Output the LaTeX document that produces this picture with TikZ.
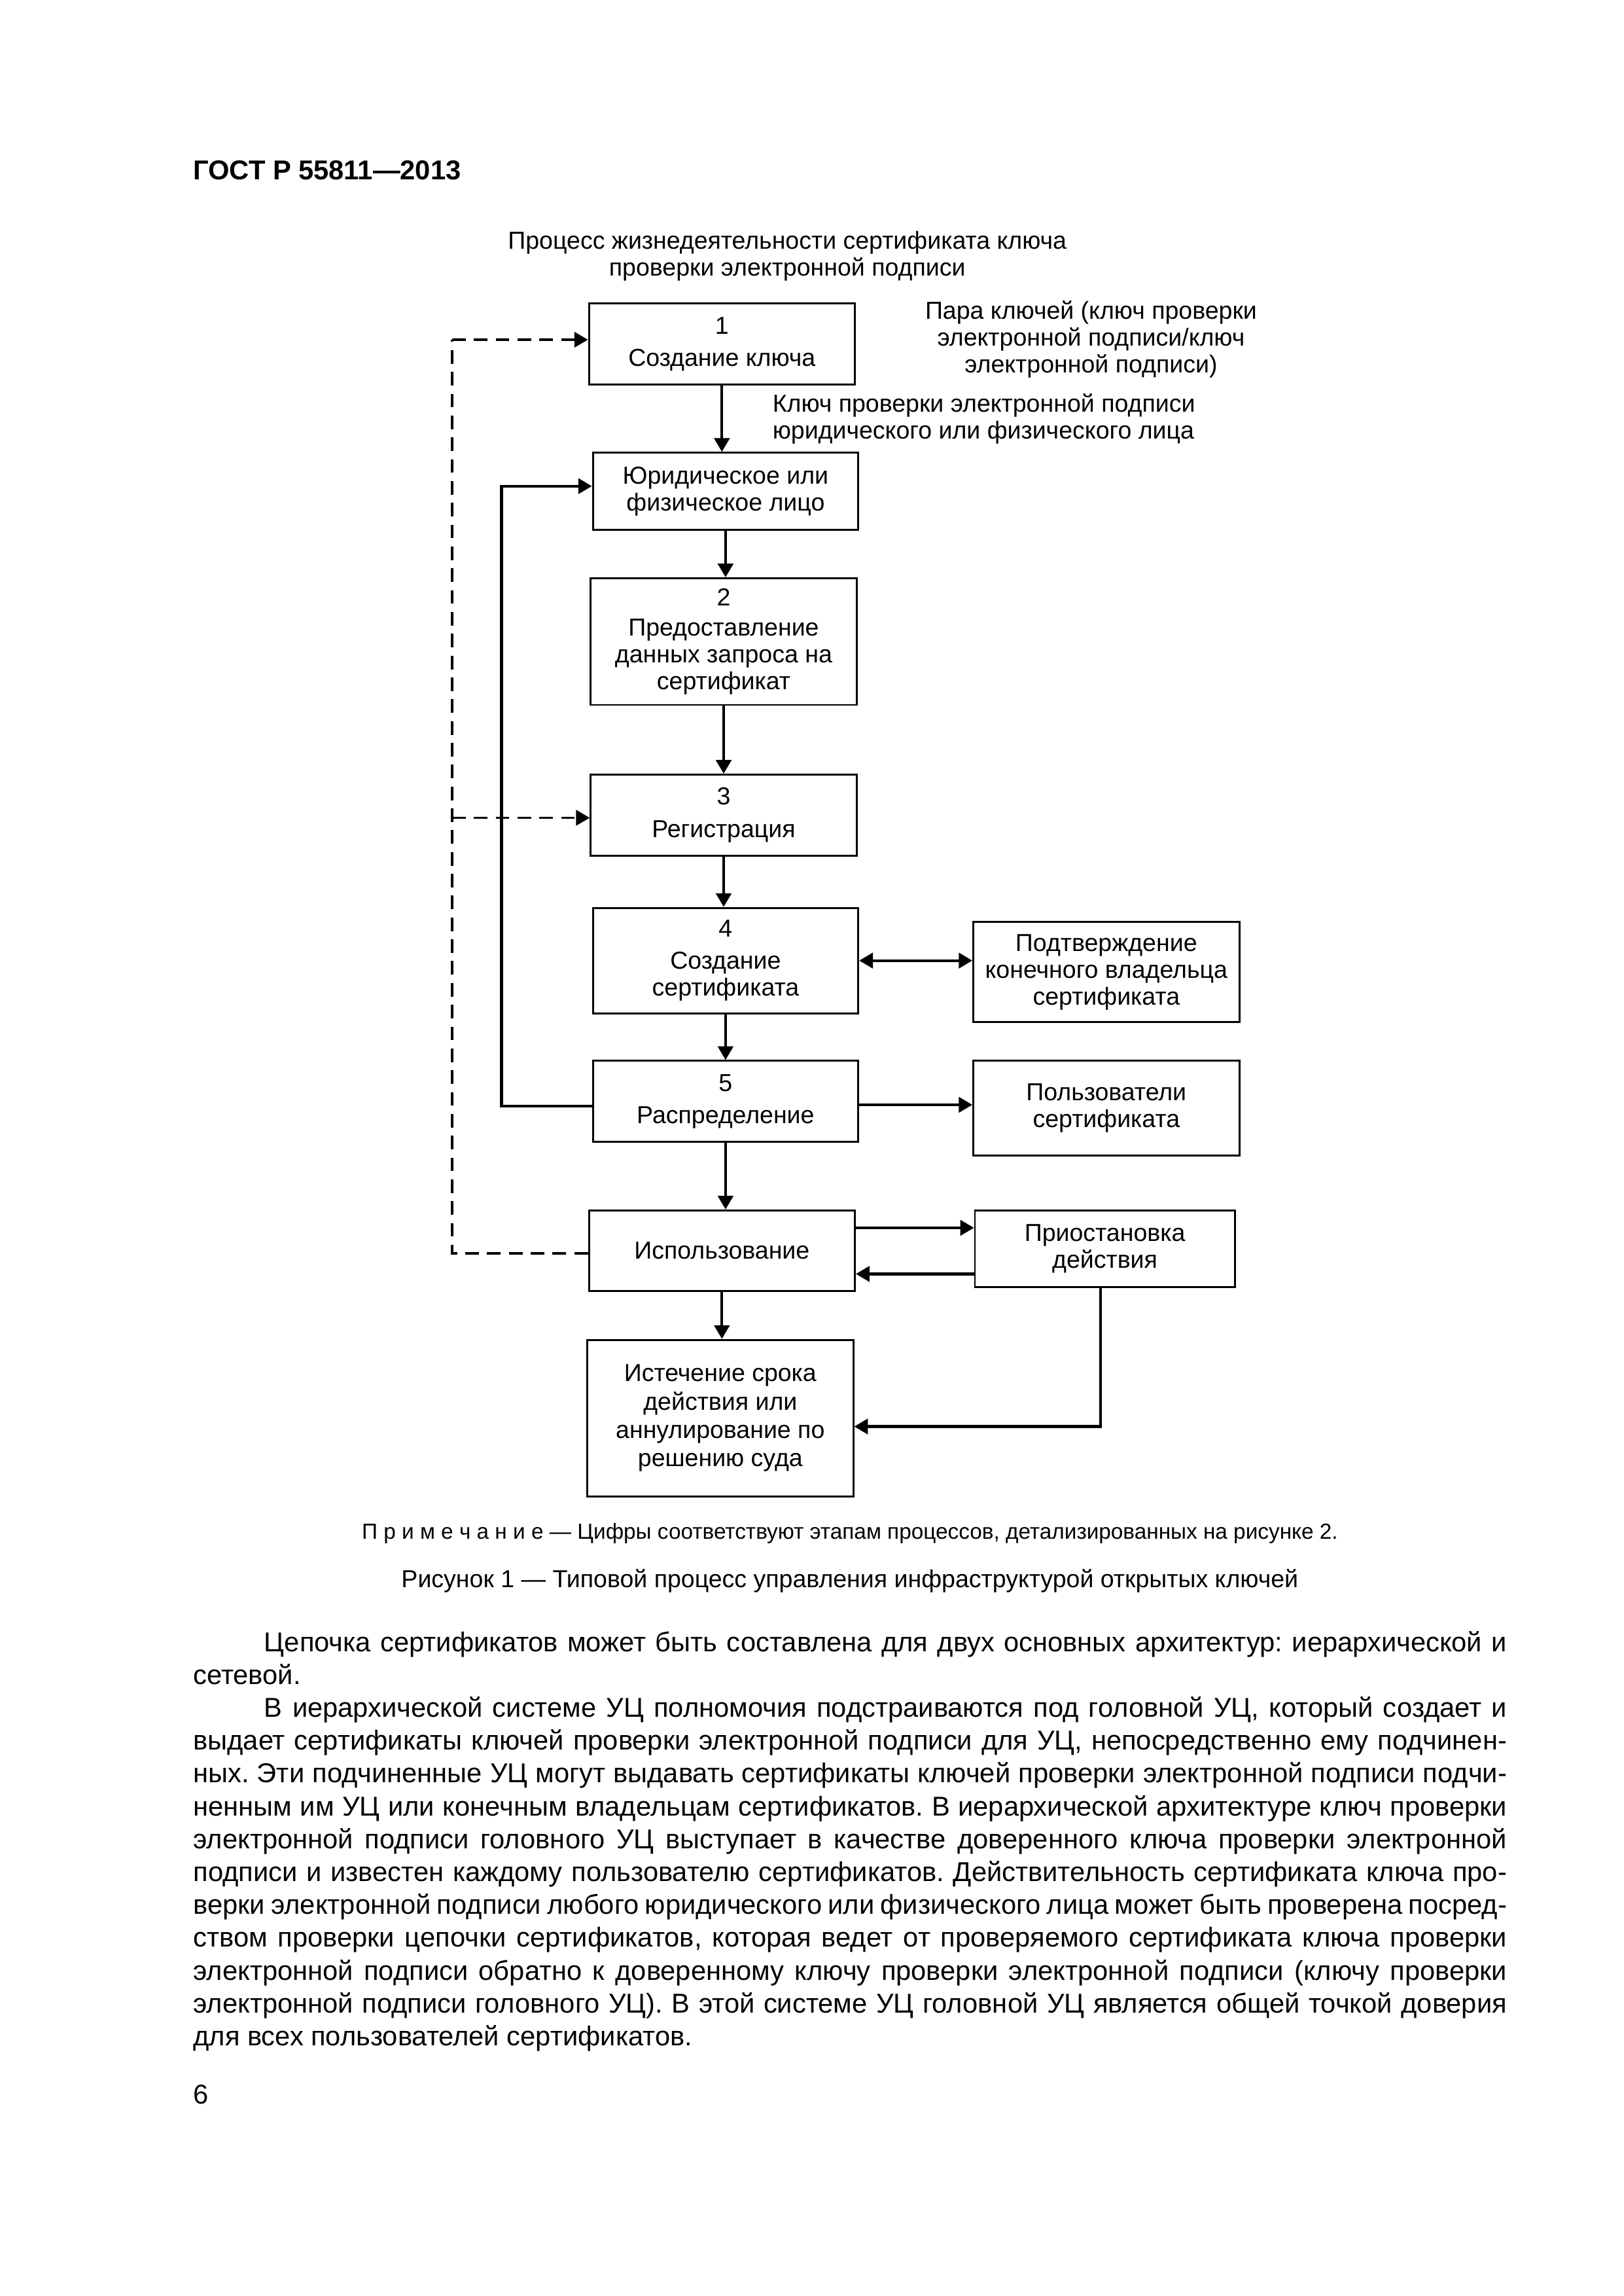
\documentclass[tikz,border=0pt]{standalone}
\usepackage{fontspec}
\setmainfont{Liberation Sans}
\usetikzlibrary{arrows.meta,calc}
\frenchspacing
\begin{document}
\begin{tikzpicture}[x=0.5368pt,y=-0.5368pt,
  box/.style={draw,line width=0.7pt,inner sep=0pt,align=center,font=\fontsize{9}{9.8}\selectfont},
  lbl/.style={inner sep=0pt,align=center,font=\fontsize{9}{9.8}\selectfont},
  tip/.style={-{Triangle[length=5pt,width=5.6pt]}},
  conn/.style={line width=1pt,tip},
  dconn/.style={line width=0.9pt,dash pattern=on 5pt off 3pt},
  bodyl/.style={anchor=base west,inner sep=0pt,font=\fontsize{10}{12}\selectfont},
]
\path[use as bounding box,fill=white] (0,0) rectangle (1109,1568);

% header
\node[anchor=base west,inner sep=0pt,font=\bfseries\fontsize{10}{12}\selectfont] (hdr) at (131.7,122.7) {ГОСТ Р 55811—2013};

% titles and labels
\node[lbl] (title) at (537.8,174.9) {Процесс жизнедеятельности сертификата ключа\\проверки электронной подписи};
\node[lbl] (pair) at (745.3,231.7) {Пара ключей (ключ проверки\\электронной подписи/ключ\\электронной подписи)};
\node[lbl,anchor=west,align=left] (keylbl) at (527.4,286) {Ключ проверки электронной подписи\\юридического или физического лица};

% boxes
\node[box,minimum width=97.54pt,minimum height=29.74pt] (b1) at (493.15,235) {1\\[1.8pt]Создание ключа};
\node[box,minimum width=97.32pt,minimum height=28.34pt] (bU) at (495.65,335.6) {Юридическое или\\физическое лицо};
\node[box,minimum width=97.54pt,minimum height=46.43pt] (b2) at (494.35,438.15) {2\\[1.4pt]Предоставление\\данных запроса на\\сертификат};
\node[box,minimum width=97.54pt,minimum height=29.79pt] (b3) at (494.35,556.75) {3\\[2.2pt]Регистрация};
\node[box,minimum width=97.32pt,minimum height=38.65pt] (b4) at (495.65,656) {4\\[2pt]Создание\\сертификата};
\node[box,minimum width=97.54pt,minimum height=36.66pt] (bP) at (755.75,663.85) {Подтверждение\\конечного владельца\\сертификата};
\node[box,minimum width=97.32pt,minimum height=29.63pt] (b5) at (495.65,752.1) {5\\[2pt]Распределение};
\node[box,minimum width=97.54pt,minimum height=34.62pt] (bPol) at (755.75,756.75) {Пользователи\\сертификата};
\node[box,minimum width=97.54pt,minimum height=29.63pt] (bI) at (493.15,854.2) {Использование};
\node[box,minimum width=95.28pt,minimum height=28.13pt] (bS) at (754.75,852.8) {Приостановка\\действия};
\node[box,minimum width=97.54pt,minimum height=57.44pt,font=\fontsize{9}{10.4}\selectfont] (bE) at (492.05,968.5) {Истечение срока\\действия или\\аннулирование по\\решению суда};

% vertical flow
\draw[conn] (b1.south) -- (b1.south |- bU.north);
\draw[conn] (bU.south) -- (bU.south |- b2.north);
\draw[conn] (b2.south) -- (b2.south |- b3.north);
\draw[conn] (b3.south) -- (b3.south |- b4.north);
\draw[conn] (b4.south) -- (b4.south |- b5.north);
\draw[conn] (b5.south) -- (b5.south |- bI.north);
\draw[conn] (bI.south) -- (bI.south |- bE.north);

% helper coordinates for horizontal connectors
\coordinate (c5) at ($(b5.east)+(0,2.4)$);
\coordinate (cIS) at ($(bI.east)+(0,-15.7)$);
\coordinate (cSI) at ($(bS.west)+(0,17.2)$);
\coordinate (cSd) at ($(bS.south)+(-2.8,0)$);
\coordinate (cE) at ($(bE.east)+(0,5.7)$);

% horizontal connectors
\draw[line width=1pt,{Triangle[length=5pt,width=5.6pt]}-{Triangle[length=5pt,width=5.6pt]}] (b4.east) -- (b4.east -| bP.west);
\draw[conn] (c5) -- (c5 -| bPol.west);
\draw[conn] (cIS) -- (cIS -| bS.west);
\draw[conn] (cSI) -- (cSI -| bI.east);
\draw[conn] (cSd) |- (cE);

% solid feedback
\coordinate (fbB) at (342.6,755.5);
\coordinate (fbT) at (342.6,332);
\draw[conn] (b5.west |- fbB) -- (fbB) -- (fbT) -- (fbT -| bU.west);

% dashed feedback
\coordinate (dB) at (308.8,856);
\coordinate (dT) at (308.8,232);
\coordinate (dM) at (308.8,558.5);
\draw[dconn] (bI.west |- dB) -- (dB) -- (dT);
\draw[dconn,tip] (dT) -- (dT -| b1.west);
\draw[dconn,tip] (dM) -- (dM -| b3.west);

% note and caption
\node[anchor=base,inner sep=0pt,font=\fontsize{8}{9.6}\selectfont] (note) at (580.6,1051) {П р и м е ч а н и е — Цифры соответствуют этапам процессов, детализированных на рисунке 2.};
\node[anchor=base,inner sep=0pt,font=\fontsize{9}{10.8}\selectfont] (cap) at (580.5,1084) {Рисунок 1 — Типовой процесс управления инфраструктурой открытых ключей};

% body text
\node[bodyl] (l1) at (180.2,1127.8) {\makebox[455.65pt][s]{Цепочка сертификатов может быть составлена для двух основных архитектур: иерархической и}};
\node[bodyl] (l2) at (131.7,1150.2) {сетевой.};
\node[bodyl] (l3) at (180.2,1172.7) {\makebox[455.65pt][s]{В иерархической системе УЦ полномочия подстраиваются под головной УЦ, который создает и}};
\node[bodyl] (l4) at (131.7,1195.1) {\makebox[481.67pt][s]{выдает сертификаты ключей проверки электронной подписи для УЦ, непосредственно ему подчинен-}};
\node[bodyl] (l5) at (131.7,1217.5) {\makebox[481.67pt][s]{ных. Эти подчиненные УЦ могут выдавать сертификаты ключей проверки электронной подписи подчи-}};
\node[bodyl] (l6) at (131.7,1240.0) {\makebox[481.67pt][s]{ненным им УЦ или конечным владельцам сертификатов. В иерархической архитектуре ключ проверки}};
\node[bodyl] (l7) at (131.7,1262.4) {\makebox[481.67pt][s]{электронной подписи головного УЦ выступает в качестве доверенного ключа проверки электронной}};
\node[bodyl] (l8) at (131.7,1284.8) {\makebox[481.67pt][s]{подписи и известен каждому пользователю сертификатов. Действительность сертификата ключа про-}};
\node[bodyl] (l9) at (131.7,1307.2) {\makebox[481.67pt][s]{верки электронной подписи любого юридического или физического лица может быть проверена посред-}};
\node[bodyl] (l10) at (131.7,1329.7) {\makebox[481.67pt][s]{ством проверки цепочки сертификатов, которая ведет от проверяемого сертификата ключа проверки}};
\node[bodyl] (l11) at (131.7,1352.1) {\makebox[481.67pt][s]{электронной подписи обратно к доверенному ключу проверки электронной подписи (ключу проверки}};
\node[bodyl] (l12) at (131.7,1374.5) {\makebox[481.67pt][s]{электронной подписи головного УЦ). В этой системе УЦ головной УЦ является общей точкой доверия}};
\node[bodyl] (l13) at (131.7,1397.0) {для всех пользователей сертификатов.};

% page number
\node[bodyl] (pg) at (131.7,1437) {6};
\end{tikzpicture}
\end{document}
